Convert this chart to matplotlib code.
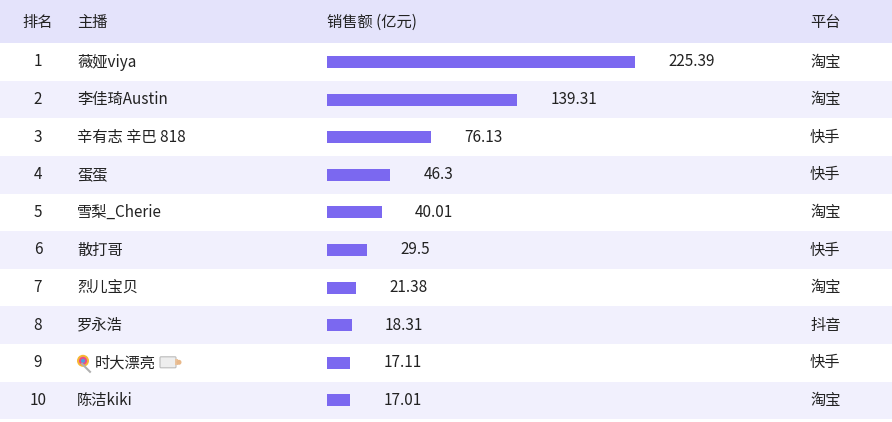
import matplotlib.pyplot as plt
from matplotlib.patches import Rectangle, Circle, FancyBboxPatch

plt.rcParams['font.family'] = ['Noto Sans CJK SC', 'DejaVu Sans']

ranks = ['1', '2', '3', '4', '5', '6', '7', '8', '9', '10']
hosts = ['薇娅viya', '李佳琦Austin', '辛有志 辛巴 818', '蛋蛋', '雪梨_Cherie',
         '散打哥', '烈儿宝贝', '罗永浩', '时大漂亮', '陈洁kiki']
sales = [225.39, 139.31, 76.13, 46.3, 40.01, 29.5, 21.38, 18.31, 17.11, 17.01]
platforms = ['淘宝', '淘宝', '快手', '快手', '淘宝', '快手', '淘宝', '抖音', '快手', '淘宝']
headers = ['排名', '主播', '销售额 (亿元)', '平台']
emoji_row = 8  # 🍭 ... 🍼 around this name; no installed font has them

W, H = 892, 422
row_h = 37.6
y0 = 62  # center of first row
px_per_unit = 308 / 225.39

fig = plt.figure(figsize=(W / 100, H / 100), dpi=100)
ax = fig.add_axes([0, 0, 1, 1])
ax.set_xlim(0, W)
ax.set_ylim(H, 0)
ax.axis('off')

# header
ax.add_patch(Rectangle((0, 0), W, 43, color='#e4e3fb', lw=0))
for i in range(len(ranks)):
    yc = y0 + i * row_h
    if i % 2 == 1:
        ax.add_patch(Rectangle((0, yc - row_h / 2), W, row_h, color='#f1f0fd', lw=0))

fs = 11
ax.text(38, 22, headers[0], ha='center', va='center', fontsize=fs, color='#222222')
ax.text(77, 22, headers[1], ha='left', va='center', fontsize=fs, color='#222222')
ax.text(327, 22, headers[2], ha='left', va='center', fontsize=fs, color='#222222')
ax.text(810, 22, headers[3], ha='left', va='center', fontsize=fs, color='#222222')

for i in range(len(ranks)):
    yc = y0 + i * row_h
    ax.text(38, yc, ranks[i], ha='center', va='center', fontsize=fs, color='#222222')
    if i == emoji_row:
        # lollipop
        ax.plot([82, 90], [yc + 1, yc + 9], color='#b0b0b0', lw=1.5)
        ax.add_patch(Circle((83, yc - 2), 6, color='#f7b733', lw=0))
        ax.add_patch(Circle((83, yc - 2), 4, color='#e74c8c', lw=0))
        ax.add_patch(Circle((83, yc - 2), 2, color='#4aa3df', lw=0))
        t = ax.text(95, yc, hosts[i], ha='left', va='center', fontsize=fs, color='#222222')
        fig.canvas.draw()
        bb = t.get_window_extent()
        x1 = bb.x1 + 2
        # baby bottle, tilted look approximated
        ax.add_patch(FancyBboxPatch((x1 + 3, yc - 5), 14, 9, boxstyle='round,pad=1',
                                    fc='#eeeeee', ec='#bbbbbb', lw=0.8))
        ax.add_patch(Rectangle((x1 + 17, yc - 3.5), 3, 6, color='#e8c39e', lw=0))
        ax.add_patch(Circle((x1 + 21, yc - 0.5), 2.5, color='#e8b88a', lw=0))
    else:
        ax.text(77, yc, hosts[i], ha='left', va='center', fontsize=fs, color='#222222')
    ax.text(810, yc, platforms[i], ha='left', va='center', fontsize=fs, color='#222222')

# bars on their own axes with a value scale
bx = fig.add_axes([327 / W, 0, (W - 327) / W, 1])
bx.set_xlim(0, (W - 327) / px_per_unit)
bx.set_ylim(H, 0)
bx.axis('off')
ys = [y0 + i * row_h for i in range(len(sales))]
bx.barh(ys, sales, height=12, color='#7b68f0')
for y, v in zip(ys, sales):
    bx.text(v + 33 / px_per_unit, y, f'{v:g}', ha='left', va='center', fontsize=fs, color='#222222')

fig.savefig('out.png', dpi=100)
